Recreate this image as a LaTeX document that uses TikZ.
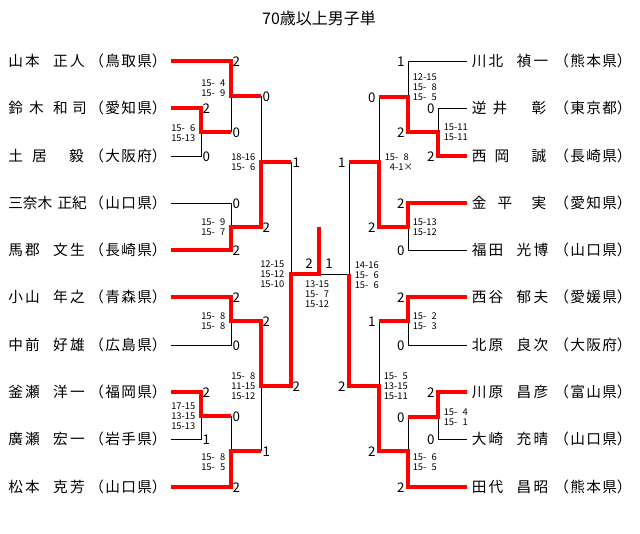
\documentclass[tikz,border=0pt]{standalone}
\usepackage{fontspec}
\setmainfont{Noto Sans CJK JP}
\usepackage{tikz}
\newdimen\pxu \pxu=0.75pt
\newcommand\gp[1]{\hspace{#1\pxu}}
\newcommand\nmf[4]{#1\gp{2.3}#2\gp{13.3}#3\gp{2.3}#4}
\newcommand\pref[3]{\kern-.5em（\gp{1.3}#1\gp{1.3}#2\gp{1.3}#3）}
\newcommand\z{\hphantom{0}}
\begin{document}
\begin{tikzpicture}[x=0.75pt,y=-0.75pt,
	win/.style={red, line width=2.4pt},
	lose/.style={black, line width=0.6pt},
	nm/.style={inner sep=0pt, anchor=west, font=\fontsize{11}{13}\selectfont},
	res/.style={inner sep=0pt, font=\fontsize{10}{12}\selectfont},
	resL/.style={res, anchor=west, xshift=1pt, yshift=-0.75pt},
	resR/.style={res, anchor=east, xshift=-2.5pt, yshift=-0.75pt},
	sets/.style={inner sep=0pt, font=\fontsize{7}{7.5}\selectfont},
	setsL/.style={sets, anchor=east, align=right},
	setsR/.style={sets, anchor=west, align=left}]
	\fill[white] (0,0) rectangle (640,533);
	\useasboundingbox (0,0) rectangle (640,533);
	\node[font=\fontsize{12}{14}\selectfont] (title) at (319,18) {70歳以上男子単};
	% players
	\node[nm] (nL1) at (8,61) {\nmf{山}{本}{正}{人}};
	\node[nm] (nL2) at (8,108) {鈴\gp{6.3}木\gp{9.3}和\gp{4.3}司};
	\node[nm] (nL3) at (8,156) {土\gp{9.3}居\gp{22.3}毅};
	\node[nm] (nL4) at (8,203) {三奈木\gp{5.3}正紀};
	\node[nm] (nL5) at (8,250) {\nmf{馬}{郡}{文}{生}};
	\node[nm] (nL6) at (8,297) {\nmf{小}{山}{年}{之}};
	\node[nm] (nL7) at (8,345) {\nmf{中}{前}{好}{雄}};
	\node[nm] (nL8) at (8,392) {\nmf{釜}{瀬}{洋}{一}};
	\node[nm] (nL9) at (8,439) {\nmf{廣}{瀬}{宏}{一}};
	\node[nm] (nL10) at (8,487) {\nmf{松}{本}{克}{芳}};
	\node[nm] (pL1) at (96.5,61) {\pref{鳥}{取}{県}};
	\node[nm] (pL2) at (96.5,108) {\pref{愛}{知}{県}};
	\node[nm] (pL3) at (96.5,156) {\pref{大}{阪}{府}};
	\node[nm] (pL4) at (96.5,203) {\pref{山}{口}{県}};
	\node[nm] (pL5) at (96.5,250) {\pref{長}{崎}{県}};
	\node[nm] (pL6) at (96.5,297) {\pref{青}{森}{県}};
	\node[nm] (pL7) at (96.5,345) {\pref{広}{島}{県}};
	\node[nm] (pL8) at (96.5,392) {\pref{福}{岡}{県}};
	\node[nm] (pL9) at (96.5,439) {\pref{岩}{手}{県}};
	\node[nm] (pL10) at (96.5,487) {\pref{山}{口}{県}};
	\node[nm] (nR1) at (471.5,61) {\nmf{川}{北}{禎}{一}};
	\node[nm] (nR2) at (471.5,108) {逆\gp{6.3}井\gp{24.3}彰};
	\node[nm] (nR3) at (471.5,156) {西\gp{8.3}岡\gp{22.3}誠};
	\node[nm] (nR4) at (471.5,203) {金\gp{11.3}平\gp{19.3}実};
	\node[nm] (nR5) at (471.5,250) {\nmf{福}{田}{光}{博}};
	\node[nm] (nR6) at (471.5,297) {\nmf{西}{谷}{郁}{夫}};
	\node[nm] (nR7) at (471.5,345) {\nmf{北}{原}{良}{次}};
	\node[nm] (nR8) at (471.5,392) {\nmf{川}{原}{昌}{彦}};
	\node[nm] (nR9) at (471.5,439) {\nmf{大}{崎}{充}{晴}};
	\node[nm] (nR10) at (471.5,487) {\nmf{田}{代}{昌}{昭}};
	\node[nm] (pR1) at (561.5,61) {\pref{熊}{本}{県}};
	\node[nm] (pR2) at (561.5,108) {\pref{東}{京}{都}};
	\node[nm] (pR3) at (561.5,156) {\pref{長}{崎}{県}};
	\node[nm] (pR4) at (561.5,203) {\pref{愛}{知}{県}};
	\node[nm] (pR5) at (561.5,250) {\pref{山}{口}{県}};
	\node[nm] (pR6) at (561.5,297) {\pref{愛}{媛}{県}};
	\node[nm] (pR7) at (561.5,345) {\pref{大}{阪}{府}};
	\node[nm] (pR8) at (561.5,392) {\pref{富}{山}{県}};
	\node[nm] (pR9) at (561.5,439) {\pref{山}{口}{県}};
	\node[nm] (pR10) at (561.5,487) {\pref{熊}{本}{県}};
	% line ends and match points
	\foreach \i/\y in {1/61,2/108,3/156,4/203,5/250,6/297,7/345,8/392,9/439,10/487} {
		\coordinate (sL\i) at (171,\y);
		\coordinate (sR\i) at (467,\y);
	}
	\coordinate (mL23) at (201,132);
	\coordinate (mL1) at (231,96);
	\coordinate (mL45) at (231,227);
	\coordinate (mLA) at (261,162);
	\coordinate (mL67) at (231,321);
	\coordinate (mL89) at (201,416);
	\coordinate (mL10) at (231,451);
	\coordinate (mLB) at (261,386);
	\coordinate (mLS) at (291,274);
	\coordinate (fin) at (319,274);
	\coordinate (champ) at (319,227);
	\coordinate (mR23) at (438,132);
	\coordinate (mR1) at (408,97);
	\coordinate (mR45) at (408,227);
	\coordinate (mRA) at (379,162);
	\coordinate (mR67) at (408,321);
	\coordinate (mR89) at (438,417);
	\coordinate (mR10) at (408,451);
	\coordinate (mRB) at (379,386);
	\coordinate (mRS) at (349,274);
	% losers
	\draw[lose] (sL3) -| (mL23);
	\draw[lose] (mL23 -| mL1) -- (mL1);
	\draw[lose] (mL1 -| mLA) -- (mLA);
	\draw[lose] (sL4) -| (mL45);
	\draw[lose] (mLA -| mLS) -- (mLS);
	\draw[lose] (sL7) -| (mL67);
	\draw[lose] (sL9) -| (mL89);
	\draw[lose] (mL89 -| mL10) -- (mL10);
	\draw[lose] (mL10 -| mLB) -- (mLB);
	\draw[lose] (sR2) -| (mR23);
	\draw[lose] (sR1) -| (mR1);
	\draw[lose] (mR1 -| mRA) -- (mRA);
	\draw[lose] (sR5) -| (mR45);
	\draw[lose] (mRA -| mRS) -- (mRS);
	\draw[lose] (sR7) -| (mR67);
	\draw[lose] (mR67 -| mRB) -- (mRB);
	\draw[lose] (sR9) -| (mR89);
	\draw[lose] (mR89 -| mR10) -- (mR10);
	\draw[lose] (mRS) -- (fin);
	% winners
	\draw[win] (sL2) -| (mL23) -- (mL23 -| mL1);
	\draw[win] (sL1) -| (mL1) -- (mL1 -| mLA);
	\draw[win] (sL5) -| (mL45) -- (mL45 -| mLA) -- (mLA) -- (mLA -| mLS);
	\draw[win] (sL6) -| (mL67) -- (mL67 -| mLB) -- (mLB) -- (mLB -| mLS) -- (mLS) -- (fin) -- (champ);
	\draw[win] (sL8) -| (mL89) -- (mL89 -| mL10);
	\draw[win] (sL10) -| (mL10) -- (mL10 -| mLB);
	\draw[win] (sR3) -| (mR23) -- (mR23 -| mR1) -- (mR1) -- (mR1 -| mRA);
	\draw[win] (sR4) -| (mR45) -- (mR45 -| mRA) -- (mRA) -- (mRA -| mRS);
	\draw[win] (sR6) -| (mR67) -- (mR67 -| mRB);
	\draw[win] (sR8) -| (mR89) -- (mR89 -| mR10);
	\draw[win] (sR10) -| (mR10) -- (mR10 -| mRB) -- (mRB) -- (mRB -| mRS) -- (mRS);
	% games won
	\node[resL] (rL1) at (sL1 -| mL1) {2};
	\node[resL] (rL2) at (sL2 -| mL23) {2};
	\node[resL] (rL3) at (sL3 -| mL23) {0};
	\node[resL] (rL2b) at (mL23 -| mL1) {0};
	\node[resL] (rL1b) at (mL1 -| mLA) {0};
	\node[resL] (rL4) at (sL4 -| mL45) {0};
	\node[resL] (rL5) at (sL5 -| mL45) {2};
	\node[resL] (rL5b) at (mL45 -| mLA) {2};
	\node[resL] (rL5c) at (mLA -| mLS) {1};
	\node[resL] (rL6) at (sL6 -| mL67) {2};
	\node[resL] (rL7) at (sL7 -| mL67) {0};
	\node[resL] (rL6b) at (mL67 -| mLB) {2};
	\node[resL] (rL6c) at (mLB -| mLS) {2};
	\node[resL] (rL8) at (sL8 -| mL89) {2};
	\node[resL] (rL9) at (sL9 -| mL89) {1};
	\node[resL] (rL8b) at (mL89 -| mL10) {0};
	\node[resL] (rL10) at (sL10 -| mL10) {2};
	\node[resL] (rL10b) at (mL10 -| mLB) {1};
	\node[resR] (rR1) at (sR1 -| mR1) {1};
	\node[resR] (rR2) at (sR2 -| mR23) {0};
	\node[resR] (rR3) at (sR3 -| mR23) {2};
	\node[resR] (rR3b) at (mR23 -| mR1) {2};
	\node[resR] (rR3c) at (mR1 -| mRA) {0};
	\node[resR] (rR4) at (sR4 -| mR45) {2};
	\node[resR] (rR5) at (sR5 -| mR45) {0};
	\node[resR] (rR4b) at (mR45 -| mRA) {2};
	\node[resR] (rR4c) at (mRA -| mRS) {1};
	\node[resR] (rR6) at (sR6 -| mR67) {2};
	\node[resR] (rR7) at (sR7 -| mR67) {0};
	\node[resR] (rR6b) at (mR67 -| mRB) {1};
	\node[resR] (rR8) at (sR8 -| mR89) {2};
	\node[resR] (rR9) at (sR9 -| mR89) {0};
	\node[resR] (rR8b) at (mR89 -| mR10) {0};
	\node[resR] (rR10) at (sR10 -| mR10) {2};
	\node[resR] (rR10b) at (mR10 -| mRB) {2};
	\node[resR] (rR10c) at (mRB -| mRS) {2};
	\node[res] (rF1) at ([xshift=-7.5pt,yshift=7.5pt]fin) {2};
	\node[res] (rF2) at ([xshift=7.5pt,yshift=7.5pt]fin) {1};
	% set scores
	\node[setsL] (gL1) at (225.5,88) {15-\z4\\15-\z9};
	\node[setsL] (gL2) at (195.5,133) {15-\z6\\15-13};
	\node[setsL] (gL3) at (255.5,162) {18-16\\15-\z6};
	\node[setsL] (gL4) at (225.5,227.5) {15-\z9\\15-\z7};
	\node[setsL] (gL5) at (284.5,274) {12-15\\15-12\\15-10};
	\node[setsL] (gL6) at (225.5,321.5) {15-\z8\\15-\z8};
	\node[setsL] (gL7) at (255.5,386) {15-\z8\\11-15\\15-12};
	\node[setsL] (gL8) at (195.5,416) {17-15\\13-15\\15-13};
	\node[setsL] (gL9) at (225.5,462) {15-\z8\\15-\z5};
	\node[setsR] (gR1) at (412.5,87) {12-15\\15-\z8\\15-\z5};
	\node[setsR] (gR2) at (443.5,132) {15-11\\15-11};
	\node[setsR] (gR3) at (384.5,162) {15-\z8\\\z4-1×};
	\node[setsR] (gR4) at (412.5,227.5) {15-13\\15-12};
	\node[setsR] (gR5) at (354.5,275) {14-16\\15-\z6\\15-\z6};
	\node[setsR] (gR6) at (412.5,321.5) {15-\z2\\15-\z3};
	\node[setsR] (gR7) at (383.5,386) {15-\z5\\13-15\\15-11};
	\node[setsR] (gR8) at (443.5,417) {15-\z4\\15-\z1};
	\node[setsR] (gR9) at (412.5,462) {15-\z6\\15-\z5};
	\node[sets, align=center] (gF) at (317,294) {13-15\\15-\z7\\15-12};
\end{tikzpicture}
\end{document}
